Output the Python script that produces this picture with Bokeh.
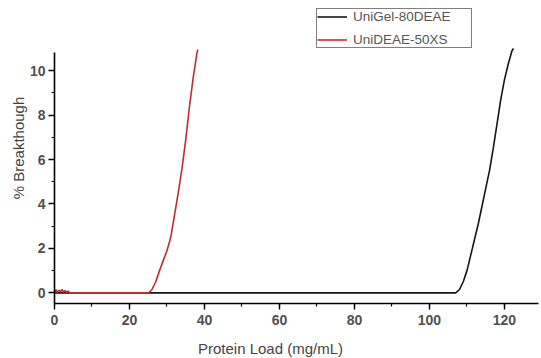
import math
from bokeh.plotting import figure
from bokeh.models import Range1d, SingleIntervalTicker, Legend, LegendItem, Label
from bokeh.embed import file_html
from bokeh.resources import INLINE

# UniDEAE-50XS (red)
red_x = [0, 0.4, 0.8, 1.2, 1.6, 2.0, 2.4, 2.8, 3.2, 3.6, 4.0, 5, 10, 15, 20, 25.1,
         26, 27, 28, 29, 30, 31, 32, 33, 34, 35, 36, 37, 38, 38.2]
red_y = [0, 0.14, 0.02, 0.12, 0.04, 0.16, 0.03, 0.1, 0.02, 0.08, 0, 0, 0, 0, 0, 0,
         0.15, 0.5, 1.0, 1.45, 1.9, 2.5, 3.5, 4.5, 5.6, 6.9, 8.4, 9.7, 10.8, 10.95]

# UniGel-80DEAE (black)
blk_x = [0, 20, 40, 60, 80, 100, 107, 108, 109, 110, 111, 112, 113, 114, 115,
         116, 117, 118, 119, 120, 121, 122, 122.4]
blk_y = [0, 0, 0, 0, 0, 0, 0, 0.15, 0.5, 1.0, 1.7, 2.4, 3.1, 3.9, 4.7,
         5.5, 6.5, 7.6, 8.7, 9.6, 10.3, 10.9, 11.0]

x_label = "Protein Load (mg/mL)"
y_label = "% Breakthough"
names = ["UniGel-80DEAE", "UniDEAE-50XS"]

X_MIN, X_MAX = 0, 129        # visible x-axis extent
Y_MIN, Y_MAX = -0.48, 10.82  # visible y-axis extent

p = figure(width=541, height=358, output_backend="svg", toolbar_location=None,
           x_range=Range1d(-14.4, 129.87), y_range=Range1d(-2.956, 13.161),
           min_border_left=0, min_border_right=0, min_border_top=0,
           min_border_bottom=0)
p.outline_line_color = None
p.xgrid.visible = False
p.ygrid.visible = False
p.background_fill_color = "white"
p.border_fill_color = "white"

lb = p.line(blk_x, blk_y, line_color="#151515", line_width=1.6)
lr = p.line(red_x, red_y, line_color="#c22a32", line_width=1.6)

for ax in (p.xaxis[0], p.yaxis[0]):
    ax.axis_line_color = "black"
    ax.axis_line_width = 1.6
    ax.major_tick_line_color = "black"
    ax.major_tick_line_width = 1.4
    ax.minor_tick_line_color = "black"
    ax.minor_tick_line_width = 1.2
    ax.major_tick_in = 0
    ax.major_tick_out = 6
    ax.minor_tick_in = 0
    ax.minor_tick_out = 3
    ax.major_label_text_font = "Liberation Sans"
    ax.major_label_text_font_style = "bold"
    ax.major_label_text_font_size = "14px"
    ax.major_label_text_color = "#505050"

p.xaxis.ticker = SingleIntervalTicker(interval=20, num_minor_ticks=2)
p.yaxis.ticker = SingleIntervalTicker(interval=2, num_minor_ticks=2)
p.xaxis.fixed_location = Y_MIN
p.yaxis.fixed_location = X_MIN
p.xaxis.bounds = (X_MIN, X_MAX)
p.yaxis.bounds = (Y_MIN, Y_MAX)
p.xaxis.major_label_standoff = 5
p.yaxis.major_label_standoff = 3

xl = Label(x=57.6, y=10.5, y_units="screen", text=x_label,
           text_align="center", text_baseline="middle",
           text_font="Liberation Sans", text_font_size="15px",
           text_color="#444444")
yl = Label(x=18, x_units="screen", y=6.52, text=y_label, angle=math.pi / 2,
           text_align="center", text_baseline="middle",
           text_font="Liberation Sans", text_font_size="15px",
           text_color="#444444")
p.add_layout(xl)
p.add_layout(yl)

legend = Legend(items=[LegendItem(label=names[0], renderers=[lb]),
                       LegendItem(label=names[1], renderers=[lr])],
                location=(316, 310), padding=0, spacing=8, margin=0,
                glyph_width=30, glyph_height=15, label_height=15,
                label_width=118, label_standoff=6,
                label_text_font="Liberation Sans", label_text_font_size="13.5px",
                label_text_color="#555555",
                border_line_color="black", border_line_width=1.4,
                background_fill_color="white", background_fill_alpha=1.0)
p.add_layout(legend, "center")

open("out.html", "w").write(file_html(p, INLINE))
